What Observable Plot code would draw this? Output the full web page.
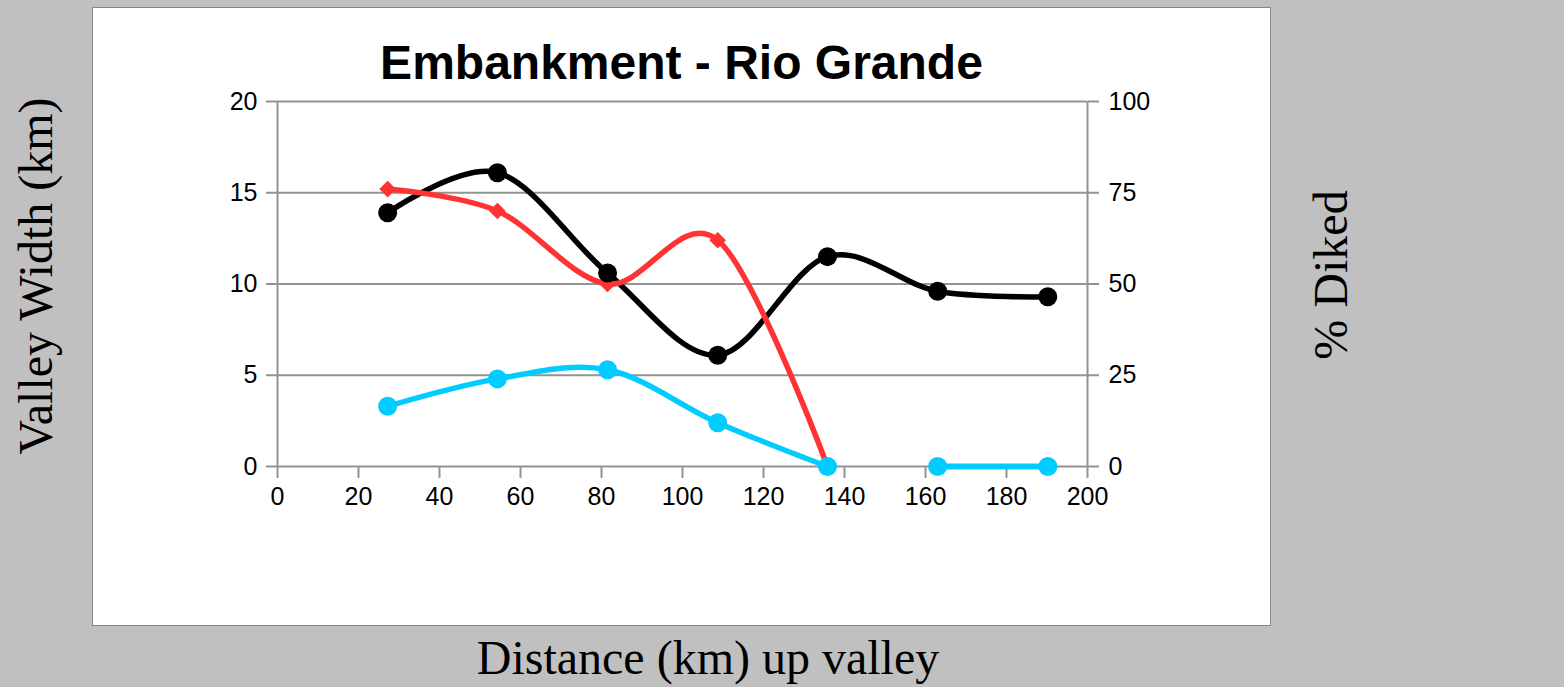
<!DOCTYPE html>
<html>
<head>
<meta charset="utf-8">
<script src="https://cdn.jsdelivr.net/npm/d3@7"></script>
<script src="https://cdn.jsdelivr.net/npm/@observablehq/plot@0.6"></script>
<style>
  html, body { margin: 0; padding: 0; background: #c0c0c0; }
  #wrap { position: relative; width: 1564px; height: 687px; overflow: hidden; }
  #box { position: absolute; left: 92px; top: 7px; width: 1177px; height: 617px; background: #fff; border: 1px solid #888; }
  #chart { position: absolute; left: 0; top: 0; }
  .t { position: absolute; white-space: nowrap; color: #000; line-height: 1; }
  #title { left: 0; width: 1363px; top: 39px; text-align: center; font: bold 48px "Liberation Sans", Arial, sans-serif; line-height: 1; }
  #ylab { left: 36px; top: 276px; transform: translate(-50%, -50%) rotate(-90deg); font: 48px "Liberation Serif", "Times New Roman", serif; line-height: 1; }
  #y2lab { left: 1331px; top: 275px; transform: translate(-50%, -50%) rotate(-90deg); font: 48px "Liberation Serif", "Times New Roman", serif; line-height: 1; }
  #xlab { left: 708px; top: 658px; transform: translate(-50%, -50%); font: 48px "Liberation Serif", "Times New Roman", serif; line-height: 1; }
</style>
</head>
<body>
<div id="wrap">
  <div id="box"></div>
  <div id="chart"></div>
  <div class="t" id="title">Embankment - Rio Grande</div>
  <div class="t" id="ylab">Valley Width (km)</div>
  <div class="t" id="y2lab">% Diked</div>
  <div class="t" id="xlab">Distance (km) up valley</div>
</div>
<script>
// Data
const distance = [27.2, 54.3, 81.5, 108.7, 135.8, 163.0, 190.2];      // km up valley
const valleyWidth = [13.9, 16.1, 10.6, 6.1, 11.5, 9.6, 9.3];          // km (left axis)
const percentDiked = [76, 70, 50, 62, 0, 0, 0];                       // % (right axis)
const embankmentWidth = [3.3, 4.8, 5.3, 2.4, 0, 0, 0];                // km (left axis)
const segment = [1, 1, 1, 1, 1, 2, 2];                                // line breaks in red/cyan series
const xTicks = [0, 20, 40, 60, 80, 100, 120, 140, 160, 180, 200];
const yTicks = [0, 5, 10, 15, 20];
const y2Ticks = [0, 25, 50, 75, 100];

const rightScale = 5; // 20 km <-> 100 %

const black = distance.map((d, i) => ({x: d, y: valleyWidth[i]}));
const red = distance.map((d, i) => ({x: d, y: percentDiked[i] / rightScale, s: segment[i]}));
const cyan = distance.map((d, i) => ({x: d, y: embankmentWidth[i], s: segment[i]}));

const grid = "#939393";

const chart = Plot.plot({
  width: 1564,
  height: 687,
  marginLeft: 277,
  marginRight: 477,
  marginTop: 101,
  marginBottom: 221,
  style: {background: "transparent", fontFamily: "'Liberation Sans', Arial, sans-serif", fontSize: "25px", color: "#000"},
  x: {domain: [0, 200]},
  y: {domain: [0, 20]},
  marks: [
    Plot.ruleY(yTicks, {stroke: grid, strokeWidth: 2}),
    Plot.ruleX([0, 200], {stroke: grid, strokeWidth: 2}),
    Plot.axisX({ticks: xTicks, tickSize: 12, tickPadding: 9, stroke: grid, strokeWidth: 2, fill: "#000", label: null, tickFormat: d => d}),
    Plot.axisY({anchor: "left", ticks: yTicks, tickSize: 11, tickPadding: 9, stroke: grid, strokeWidth: 2, fill: "#000", label: null}),
    Plot.axisY({anchor: "right", ticks: yTicks, tickSize: 11, tickPadding: 10, stroke: grid, strokeWidth: 2, fill: "#000", label: null,
      tickFormat: (d, i) => y2Ticks[i]}),
    Plot.line(black, {x: "x", y: "y", stroke: "#000", strokeWidth: 5.5, curve: "cardinal"}),
    Plot.line(red, {x: "x", y: "y", z: "s", stroke: "#ff3333", strokeWidth: 5.5, curve: "cardinal"}),
    Plot.line(cyan, {x: "x", y: "y", z: "s", stroke: "#00ccff", strokeWidth: 5.5, curve: "cardinal"}),
    Plot.dot(red, {x: "x", y: "y", symbol: "diamond2", r: 7.5, fill: "#ff3333"}),
    Plot.dot(black, {x: "x", y: "y", r: 9.5, fill: "#000"}),
    Plot.dot(cyan, {x: "x", y: "y", r: 9.5, fill: "#00ccff"})
  ]
});
document.getElementById("chart").appendChild(chart);
</script>
</body>
</html>
